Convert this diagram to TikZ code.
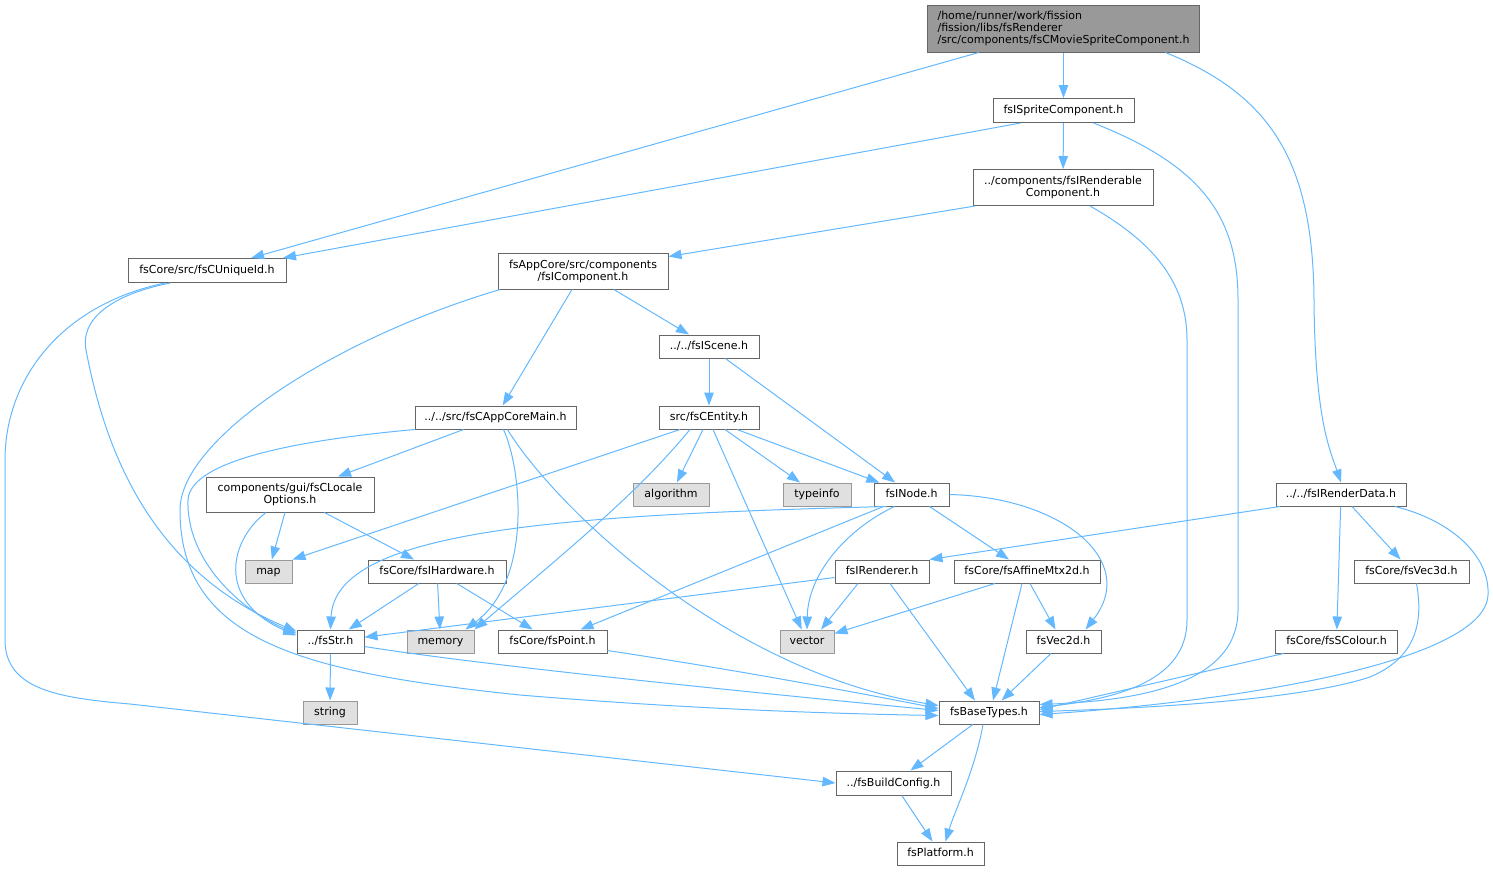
\documentclass[tikz,border=0pt]{standalone}
\usepackage{fontspec}
\setmainfont{DejaVu Sans}
\usepackage{tikz}
\usetikzlibrary{arrows.meta}
\definecolor{edgeblue}{HTML}{63B8FF}
\definecolor{nodeedge}{HTML}{666666}
\definecolor{sysedge}{HTML}{999999}
\definecolor{sysfill}{HTML}{E0E0E0}
\definecolor{mainfill}{HTML}{999999}
\tikzset{
	hdr/.style={draw=nodeedge, fill=white, line width=1pt, inner sep=0pt, align=center, font=\fontsize{11}{12}\selectfont},
	one/.style={hdr, text height=8pt, text depth=1.5pt},
	sys/.style={one, draw=sysedge, fill=sysfill},
	dep/.style={draw=edgeblue, line width=1pt, -{Triangle[length=13pt,width=9.5pt]}}
}
\begin{document}
\begin{tikzpicture}[x=1pt,y=-1pt]
			\useasboundingbox (0,0) rectangle (1493,871);
			
			\node[hdr, fill=mainfill, align=left, minimum width=272, minimum height=47] (main) at (1063.5,28.5) {/home/runner/work/fission\\/fission/libs/fsRenderer\\/src/components/fsCMovieSpriteComponent.h};
			\node[one, minimum width=141, minimum height=24] (sprite) at (1063.5,110.5) {fsISpriteComponent.h};
			\node[hdr, minimum width=180, minimum height=36] (rend) at (1063,187.5) {../components/fsIRenderable\\Component.h};
			\node[one, minimum width=158, minimum height=24] (uid) at (207,270.5) {fsCore/src/fsCUniqueId.h};
			\node[hdr, minimum width=170, minimum height=36] (icomp) at (583,271) {fsAppCore/src/components\\/fsIComponent.h};
			\node[one, minimum width=100, minimum height=23] (iscene) at (709,346.5) {../../fsIScene.h};
			\node[one, minimum width=161, minimum height=23] (acmain) at (495.5,417.5) {../../src/fsCAppCoreMain.h};
			\node[one, minimum width=100, minimum height=23] (centity) at (709,417.5) {src/fsCEntity.h};
			\node[hdr, minimum width=168, minimum height=35] (locale) at (290,494.5) {components/gui/fsCLocale\\Options.h};
			\node[sys, minimum width=76, minimum height=23] (algo) at (671,494.5) {algorithm};
			\node[sys, minimum width=68, minimum height=23] (typeinfo) at (817,494.5) {typeinfo};
			\node[one, minimum width=75, minimum height=23] (inode) at (911.5,494.5) {fsINode.h};
			\node[one, minimum width=130, minimum height=23] (rdata) at (1341,494.5) {../../fsIRenderData.h};
			\node[sys, minimum width=47, minimum height=23] (map) at (268.5,571.5) {map};
			\node[one, minimum width=138, minimum height=23] (ihw) at (437,571.5) {fsCore/fsIHardware.h};
			\node[one, minimum width=94, minimum height=23] (irend) at (882,571.5) {fsIRenderer.h};
			\node[one, minimum width=146, minimum height=23] (affine) at (1027,571.5) {fsCore/fsAffineMtx2d.h};
			\node[one, minimum width=115, minimum height=23] (vec3d) at (1411.5,571.5) {fsCore/fsVec3d.h};
			\node[one, minimum width=67, minimum height=23] (fsstr) at (330.5,641.5) {../fsStr.h};
			\node[sys, minimum width=67, minimum height=23] (memory) at (440.5,641.5) {memory};
			\node[one, minimum width=109, minimum height=23] (point) at (552.5,641.5) {fsCore/fsPoint.h};
			\node[sys, minimum width=54, minimum height=23] (vector) at (807,641.5) {vector};
			\node[one, minimum width=75, minimum height=23] (vec2d) at (1063.5,641.5) {fsVec2d.h};
			\node[one, minimum width=122, minimum height=23] (scolour) at (1336.5,641.5) {fsCore/fsSColour.h};
			\node[sys, minimum width=54, minimum height=23] (string) at (330,712.5) {string};
			\node[one, minimum width=100, minimum height=23] (bt) at (989,712.5) {fsBaseTypes.h};
			\node[one, minimum width=115, minimum height=24] (bconf) at (893.5,783) {../fsBuildConfig.h};
			\node[one, minimum width=87, minimum height=23] (plat) at (940.5,853.5) {fsPlatform.h};
			
			\draw[dep] (main) -- (sprite);
			\draw[dep] (main) -- (uid);
			\draw[dep] ([xshift=102]main.south) .. controls (1270,95) and (1313,160) .. (1314,300) .. controls (1315,420) and (1330,450) .. (rdata.north);
			
			\draw[dep] ([xshift=-43]sprite.south) -- ([xshift=76]uid.north);
			\draw[dep] (sprite) -- (rend);
			\draw[dep] ([xshift=30]sprite.south) .. controls (1200,165) and (1238,215) .. (1238,300) -- (1238,610) .. controls (1238,680) and (1150,700) .. ([yshift=8]bt.east);
			
			\draw[dep] ([xshift=-88]rend.south) -- ([yshift=-4]icomp.north east);
			\draw[dep] ([xshift=27]rend.south) .. controls (1150,240) and (1187,280) .. (1187,340) -- (1187,620) .. controls (1187,680) and (1120,698) .. ([yshift=5]bt.east);
			
			\draw[dep] ([xshift=-42]uid.south) .. controls (60,305) and (5,380) .. (5,460) -- (5,640) .. controls (5,690) and (60,698) .. (130,704) -- (bconf.west);
			\draw[dep] ([xshift=-37]uid.south) .. controls (110,295) and (80,320) .. (86,350) .. controls (105,450) and (150,570) .. ([yshift=-2]fsstr.north west);
			
			\draw[dep] (icomp) -- (acmain);
			\draw[dep] (icomp) -- (iscene);
			\draw[dep] ([xshift=-83]icomp.south) .. controls (330,340) and (180,440) .. (180,510) .. controls (180,640) and (300,672) .. (520,695) .. controls (700,710) and (850,714) .. ([yshift=-3]bt.west);
			
			\draw[dep] (iscene) -- (centity);
			\draw[dep] (iscene) -- (inode);
			
			\draw[dep] (acmain) -- (locale);
			\draw[dep] (acmain.south west) .. controls (300,440) and (190,460) .. (188,500) .. controls (186,560) and (240,610) .. ([yshift=-4]fsstr.north west);
			\draw[dep] ([xshift=8]acmain.south) .. controls (522,470) and (532,580) .. ([xshift=25]memory.north);
			\draw[dep] ([xshift=12]acmain.south) .. controls (550,500) and (720,670) .. ([yshift=7]bt.west);
			
			\draw[dep] ([xshift=-29]centity.south) -- (map.north east);
			\draw[dep] ([xshift=-19]centity.south) .. controls (640,490) and (580,540) .. (memory.north east);
			\draw[dep] ([xshift=-6]centity.south) -- (algo);
			\draw[dep] ([xshift=4]centity.south) -- (vector);
			\draw[dep] ([xshift=16]centity.south) -- (typeinfo);
			\draw[dep] ([xshift=28]centity.south) -- (inode);
			
			\draw[dep] (locale) -- (map);
			\draw[dep] ([xshift=-24]locale.south) .. controls (230,540) and (215,600) .. ([yshift=-6]fsstr.north west);
			\draw[dep] (locale) -- (ihw);
			
			\draw[dep] (ihw) -- (fsstr);
			\draw[dep] (ihw) -- (memory);
			\draw[dep] (ihw) -- (point);
			
			\draw[dep] ([xshift=-25]inode.south) .. controls (560,515) and (335,530) .. (fsstr.north);
			\draw[dep] ([xshift=-28]inode.south) -- ([xshift=28]point.north);
			\draw[dep] ([xshift=-17]inode.south) .. controls (845,530) and (808,575) .. (vector.north);
			\draw[dep] (inode) -- (affine);
			\draw[dep] (inode.east) .. controls (1060,497) and (1140,560) .. ([xshift=22]vec2d.north);
			
			\draw[dep] ([xshift=-61]rdata.south) -- (irend.north east);
			\draw[dep] (rdata) -- (scolour);
			\draw[dep] (rdata) -- (vec3d);
			\draw[dep] ([xshift=54]rdata.south) .. controls (1450,520) and (1490,555) .. (1488,595) .. controls (1485,660) and (1250,700) .. ([yshift=-2]bt.east);
			
			\draw[dep] (irend) -- (fsstr);
			\draw[dep] ([xshift=-24]irend.south) -- ([xshift=14]vector.north);
			\draw[dep] ([xshift=8]irend.south) -- ([xshift=-14]bt.north);
			
			\draw[dep] ([xshift=-32]affine.south) -- ([yshift=-4]vector.north east);
			\draw[dep] ([xshift=3]affine.south) -- ([xshift=-8]vec2d.north);
			\draw[dep] ([xshift=-5]affine.south) -- ([xshift=4]bt.north);
			
			\draw[dep] (fsstr) -- (string);
			\draw[dep] ([yshift=-5]fsstr.east) .. controls (500,668) and (800,697) .. ([yshift=2]bt.west);
			\draw[dep] ([yshift=-9]point.east) .. controls (750,672) and (880,697) .. ([yshift=4]bt.west);
			\draw[dep] (vec2d) -- (bt);
			\draw[dep] ([xshift=-53]scolour.south) -- ([yshift=3]bt.east);
			\draw[dep] ([xshift=5]vec3d.south) .. controls (1425,630) and (1410,660) .. (1370,677) .. controls (1300,700) and (1150,708) .. ([yshift=1]bt.east);
			
			\draw[dep] (bt) -- (bconf);
			\draw[dep] ([xshift=-6]bt.south) .. controls (975,770) and (955,810) .. ([xshift=5]plat.north);
			\draw[dep] (bconf) -- (plat);
		\end{tikzpicture}
\end{document}
